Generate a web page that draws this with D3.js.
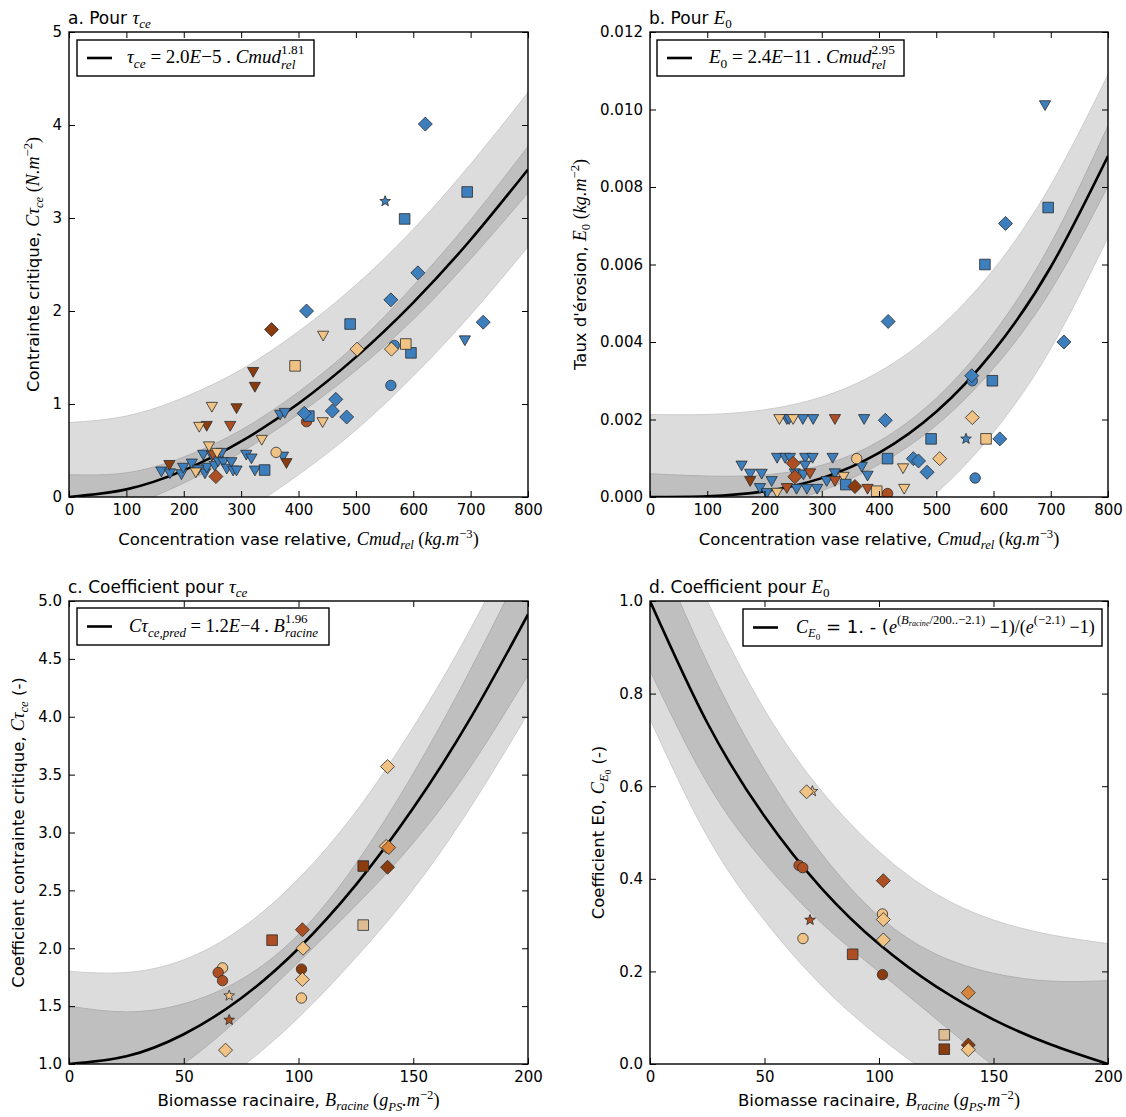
<!DOCTYPE html>
<html><head><meta charset="utf-8">
<script src="https://cdn.jsdelivr.net/npm/d3@7"></script>
<style>body{margin:0;background:#fff} svg{display:block}</style>
</head><body>
<svg id="chart" width="1126" height="1117"></svg>
<script>
// ---------------- DATA ----------------
// Panel a : tau_ce vs Cmud_rel
const aKnots   = [0,100,200,300,400,500,600,700,800];
const aFit     = [0,0.082,0.286,0.597,1.005,1.504,2.091,2.766,3.522];
const aLightHi = [0.80,0.87,1.07,1.37,1.78,2.28,2.88,3.58,4.35];
const aLightLo = [-0.80,-0.71,-0.49,-0.17,0.24,0.72,1.30,1.96,2.69];
const aDarkHi  = [0.24,0.26,0.43,0.72,1.13,1.64,2.27,2.98,3.77];
const aDarkLo  = [-0.24,-0.10,0.15,0.48,0.89,1.36,1.91,2.56,3.27];
const aXTicks = [0,100,200,300,400,500,600,700,800];
const aYTicks = [0,1,2,3,4,5];
const aTriBlue = [[690,1.68],[368,0.88],[376,0.90],[309,0.45],[318,0.41],[324,0.28],[373,0.43],[161,0.27],[176,0.25],[196,0.24],[199,0.31],[214,0.355],[234,0.45],[237,0.25],[240,0.31],[249,0.44],[254,0.33],[260,0.38],[269,0.37],[275,0.30],[283,0.37],[286,0.28],[292,0.28],[266,0.47],[225,0.29]];
const aTriDark = [[175,0.34],[240,0.76],[292,0.95],[321,1.34],[324,1.18],[379,0.36]];
const aTriRust = [[281,0.76],[251,0.45]];
const aTriTan  = [[249,0.965],[227,0.75],[244,0.54],[221,0.26],[336,0.61],[443,1.73],[442,0.80],[258,0.47]];
const aCirBlue = [[567,1.63],[561,1.20]];
const aCirRust = [[414,0.81]];
const aCirTan  = [[361,0.48]];
const aSqBlue  = [[694,3.28],[585,2.99],[490,1.86],[596,1.55],[341,0.29],[418,0.87]];
const aSqTan   = [[394,1.41],[587,1.645]];
const aDiaBlue = [[621,4.01],[608,2.41],[561,2.12],[414,2.0],[722,1.88],[465,1.05],[459,0.925],[484,0.86],[410,0.90]];
const aDiaDark = [[353,1.80]];
const aDiaRust = [[256,0.22]];
const aDiaTan  = [[502,1.59],[562,1.59]];
const aStarBlue= [[551,3.18]];

// Panel b : E0 vs Cmud_rel
const bKnots   = [0,100,200,300,400,500,600,700,800];
const bFit     = [0,0.000019,0.000147,0.000487,0.001139,0.002199,0.003765,0.005935,0.0088];
const bLightHi = [0.00213,0.00213,0.00225,0.00258,0.00323,0.00430,0.00587,0.00805,0.01090];
const bLightLo = [-0.00213,-0.0021,-0.00195,-0.0016,-0.00095,0.0001,0.00167,0.00383,0.0067];
const bDarkHi  = [0.0006,0.00054,0.00057,0.00082,0.00144,0.00255,0.00422,0.00654,0.00958];
const bDarkLo  = [-0.0006,-0.0005,-0.00027,0.00016,0.00084,0.00185,0.00332,0.00533,0.00802];
const bXTicks = [0,100,200,300,400,500,600,700,800];
const bYTicks = [0,0.002,0.004,0.006,0.008,0.010,0.012];
const bTriBlue = [[690,0.0101],[239,0.002],[243,0.002],[267,0.002],[285,0.002],[374,0.002],[222,0.001],[236,0.001],[244.5,0.001],[271,0.001],[284,0.001],[319,0.001],[160,0.0008],[175,0.00059],[195,0.00059],[212.5,0.0004],[192,0.00022],[204,0.00009],[256,0.0002],[274,0.0002],[292,0.0002],[253,0.0006],[268,0.00057],[323,0.0006],[308.6,0.0004],[380,0.00054],[370,0.00077],[271,0.0008]];
const bTriRust = [[323,0.002],[279.5,0.0006],[239,0.00022],[323,0.0004],[380,0.0002]];
const bTriDark = [[175,0.0004]];
const bTriTan  = [[226,0.002],[250,0.002],[338,0.00051],[442,0.00073],[444,0.0002],[222,0.0001]];
const bCirBlue = [[563,0.0030],[568,0.00049]];
const bCirTan  = [[361,0.00099]];
const bCirRust = [[415,0.00009]];
const bSqBlue  = [[695.5,0.00747],[585,0.006],[598,0.003],[491,0.0015],[415,0.00099],[342,0.00032]];
const bSqTan   = [[587,0.0015],[396,0.00015]];
const bDiaBlue = [[621,0.00706],[416,0.00453],[723,0.0040],[562,0.00313],[411,0.00198],[611,0.0015],[460,0.00099],[469,0.00093],[484,0.00064]];
const bDiaTan  = [[563,0.00205],[506,0.00099]];
const bDiaRust = [[250,0.00087],[253,0.00052]];
const bDiaDark = [[358,0.00027]];
const bStarBlue= [[552,0.0015]];

// Panel c : C_tau vs B_racine
const cKnots   = [0,25,50,75,100,125,150,175,200];
const cFit     = [1,1.066,1.257,1.568,1.998,2.547,3.211,3.990,4.884];
const cLightHi = [1.80,1.79,1.90,2.17,2.60,3.18,3.91,4.76,5.73];
const cLightLo = [0.20,0.35,0.62,0.97,1.40,1.92,2.51,3.22,4.03];
const cDarkHi  = [1.50,1.45,1.52,1.73,2.12,2.73,3.51,4.41,5.40];
const cDarkLo  = [0.50,0.69,1.00,1.41,1.88,2.37,2.91,3.57,4.36];
const cXTicks = [0,50,100,150,200];
const cYTicks = [1.0,1.5,2.0,2.5,3.0,3.5,4.0,4.5,5.0];
const cCirTan  = [[101.3,1.57],[66.9,1.83]];
const cCirRust = [[65,1.79],[66.9,1.72]];
const cCirDark = [[101.3,1.82]];
const cStarTan = [[69.8,1.59]];
const cStarRust= [[69.8,1.38]];
const cSqDark  = [[128.2,2.71]];
const cSqRust  = [[88.5,2.07]];
const cSqPale  = [[128.2,2.20]];
const cDiaTan  = [[138.8,3.57],[138.2,2.88],[102,2.0],[101.7,1.73],[68.2,1.12]];
const cDiaOrange=[[139.3,2.87]];
const cDiaDark = [[138.8,2.70]];
const cDiaRust = [[101.7,2.16]];

// Panel d : C_E0 vs B_racine
const dKnots   = [0,25,50,75,100,125,150,175,200];
const dFit     = [1,0.737,0.535,0.379,0.259,0.167,0.096,0.042,0];
const dLightHi = [1.26,1.00,0.765,0.589,0.459,0.367,0.311,0.279,0.26];
const dLightLo = [0.745,0.492,0.310,0.169,0.059,-0.033,-0.119,-0.195,-0.26];
const dDarkHi  = [1.15,0.867,0.635,0.454,0.319,0.237,0.196,0.179,0.18];
const dDarkLo  = [0.85,0.607,0.435,0.304,0.199,0.097,-0.004,-0.095,-0.18];
const dXTicks = [0,50,100,150,200];
const dYTicks = [0,0.2,0.4,0.6,0.8,1.0];
const dStarTan = [[70.9,0.589]];
const dCirTan  = [[101.5,0.324],[66.8,0.271]];
const dCirRust = [[65.1,0.429],[66.7,0.424]];
const dCirDark = [[101.5,0.193]];
const dStarRust= [[69.9,0.311]];
const dSqRust  = [[88.5,0.237]];
const dSqPale  = [[128.5,0.063]];
const dSqDark  = [[128.5,0.032]];
const dDiaRust = [[101.9,0.396]];
const dDiaOrange=[[139,0.154]];
const dDiaDark = [[139,0.041]];
const dDiaTan  = [[68.4,0.588],[101.9,0.312],[101.9,0.268],[139,0.031]];

// ---------------- STYLE ----------------
const SANS = "'DejaVu Sans', sans-serif";
const SERIF = "'Liberation Serif', 'DejaVu Serif', serif";
const MATH = 1.1; // math glyphs a bit larger than the sans text
const BLUE='#3d7fbc', TAN='#f0c283', DARK='#8b3c0e', RUST='#ad4f22', ORANGE='#d8843a', PALE='#dfbd93';

const SHAPES = {
  dia: 'M0,-7L7,0L0,7L-7,0Z',
  sq:  'M-5.3,-5.3H5.3V5.3H-5.3Z',
  cir: d3.symbol(d3.symbolCircle, 85)(),
  tri: 'M-5.6,-4.9L5.6,-4.9L0,4.9Z',
  star: (()=>{let p=[];for(let i=0;i<10;i++){const r=i%2?2.4:5.6;const a=-Math.PI/2+i*Math.PI/5;p.push([r*Math.cos(a),r*Math.sin(a)]);}return 'M'+p.map(q=>q[0].toFixed(2)+','+q[1].toFixed(2)).join('L')+'Z';})()
};

const svg = d3.select('#chart');

function rich(textSel, parts, base, mscale){
  const ms = mscale===undefined?MATH:mscale;
  let cur = 0, prev = null;
  parts.forEach(p=>{
    const sz = (p.sz||1)*base*(p.k==='sans'?1:ms);
    const shift = (p.dy||0)*base;
    const ts = textSel.append('tspan').text(p.t)
      .attr('font-family', p.k==='sans'?SANS:SERIF)
      .attr('font-style', p.k==='it'?'italic':'normal')
      .attr('font-size', sz)
      .attr('dy', shift-cur);
    if (p.stack && prev) ts.attr('dx', -prev.node().getComputedTextLength());
    cur = shift; prev = ts;
  });
}

function panel(cfg){
  const x = d3.scaleLinear().domain(cfg.xd).range([cfg.L, cfg.R]);
  const y = d3.scaleLinear().domain(cfg.yd).range([cfg.B, cfg.T]);
  const g = svg.append('g');
  const cid = 'clip-'+cfg.id;
  svg.append('clipPath').attr('id',cid).append('rect')
    .attr('x',cfg.L).attr('y',cfg.T).attr('width',cfg.R-cfg.L).attr('height',cfg.B-cfg.T);
  const pg = g.append('g').attr('clip-path',`url(#${cid})`);
  const area = d3.area().x(d=>x(d[0])).y0(d=>y(d[1])).y1(d=>y(d[2])).curve(d3.curveNatural);
  pg.append('path').datum(d3.zip(cfg.knots,cfg.lightLo,cfg.lightHi)).attr('d',area)
    .attr('fill','#dcdcdc').attr('stroke','#cdcdcd').attr('stroke-width',1);
  pg.append('path').datum(d3.zip(cfg.knots,cfg.darkLo,cfg.darkHi)).attr('d',area)
    .attr('fill','#bfbfbf').attr('stroke','#b0b0b0').attr('stroke-width',1);
  const line = d3.line().x(d=>x(d[0])).y(d=>y(d[1])).curve(d3.curveNatural);
  pg.append('path').datum(d3.zip(cfg.knots,cfg.fit)).attr('d',line)
    .attr('fill','none').attr('stroke','#000').attr('stroke-width',2.6);
  cfg.groups.forEach(([pts,shape,color])=>{
    pg.selectAll(null).data(pts).enter().append('path')
      .attr('transform',d=>`translate(${x(d[0])},${y(d[1])})`)
      .attr('d',SHAPES[shape]).attr('fill',color)
      .attr('stroke','#2b2b2b').attr('stroke-width',0.8);
  });
  // axes
  const styleAxis = s=>{ s.select('.domain').remove(); s.attr('font-family',SANS).attr('font-size',15);
    s.selectAll('.tick line').attr('stroke','#000').attr('stroke-width',1);
    s.selectAll('.tick text').attr('fill','#000'); };
  g.append('g').attr('transform',`translate(0,${cfg.B})`)
    .call(d3.axisBottom(x).tickValues(cfg.xt).tickSize(-6).tickPadding(7).tickFormat(d3.format(cfg.xf))).call(styleAxis);
  g.append('g').attr('transform',`translate(0,${cfg.T})`)
    .call(d3.axisTop(x).tickValues(cfg.xt).tickSize(-6).tickFormat('')).call(styleAxis);
  g.append('g').attr('transform',`translate(${cfg.L},0)`)
    .call(d3.axisLeft(y).tickValues(cfg.yt).tickSize(-6).tickPadding(7).tickFormat(d3.format(cfg.yf))).call(styleAxis);
  g.append('g').attr('transform',`translate(${cfg.R},0)`)
    .call(d3.axisRight(y).tickValues(cfg.yt).tickSize(-6).tickFormat('')).call(styleAxis);
  g.append('rect').attr('x',cfg.L).attr('y',cfg.T).attr('width',cfg.R-cfg.L).attr('height',cfg.B-cfg.T)
    .attr('fill','none').attr('stroke','#000').attr('stroke-width',1.4);
  // title
  rich(g.append('text').attr('x',cfg.L-1).attr('y',cfg.T-8).attr('fill','#000'), cfg.title, 17);
  // x label
  rich(g.append('text').attr('x',(cfg.L+cfg.R)/2).attr('y',cfg.B+cfg.xly).attr('text-anchor','middle').attr('fill','#000'), cfg.xlab, 16.5);
  // y label
  const cy=(cfg.T+cfg.B)/2;
  rich(g.append('text').attr('transform',`translate(${cfg.ylx},${cy}) rotate(-90)`).attr('text-anchor','middle').attr('fill','#000'), cfg.ylab, 16.5);
  // legend
  const lg = cfg.leg;
  g.append('rect').attr('x',lg.x).attr('y',lg.y).attr('width',lg.w).attr('height',lg.h)
    .attr('fill','#fff').attr('stroke','#000').attr('stroke-width',1.4);
  g.append('line').attr('x1',lg.x+10).attr('x2',lg.x+35).attr('y1',lg.y+lg.h/2).attr('y2',lg.y+lg.h/2)
    .attr('stroke','#000').attr('stroke-width',2.6);
  rich(g.append('text').attr('x',lg.x+lg.tx).attr('y',lg.y+lg.h/2+5).attr('fill','#000'), lg.parts, lg.fs, 1);
}

const tauce = [{t:'τ',k:'it'},{t:'ce',k:'it',sz:.7,dy:.25}];
const E0 = [{t:'E',k:'it'},{t:'0',k:'rm',sz:.7,dy:.25}];
const cmudLab = [{t:'Concentration vase relative, ',k:'sans'},{t:'Cmud',k:'it'},{t:'rel',k:'it',sz:.7,dy:.25},{t:' (',k:'rm'},{t:'kg.m',k:'it'},{t:'−3',k:'rm',sz:.7,dy:-.4},{t:')',k:'rm'}];
const bioLab = [{t:'Biomasse racinaire, ',k:'sans'},{t:'B',k:'it'},{t:'racine',k:'it',sz:.7,dy:.25},{t:' (',k:'rm'},{t:'g',k:'it'},{t:'PS',k:'it',sz:.7,dy:.3},{t:'.m',k:'it'},{t:'−2',k:'rm',sz:.7,dy:-.4},{t:')',k:'rm'}];

panel({id:'a', L:69,R:528,T:32,B:497, xd:[0,800], yd:[0,5], xt:aXTicks, yt:aYTicks, xf:'d', yf:'d',
  knots:aKnots, fit:aFit, lightHi:aLightHi, lightLo:aLightLo, darkHi:aDarkHi, darkLo:aDarkLo,
  groups:[[aTriBlue,'tri',BLUE],[aTriDark,'tri',DARK],[aTriRust,'tri',RUST],[aTriTan,'tri',TAN],
    [aCirBlue,'cir',BLUE],[aCirRust,'cir',RUST],[aCirTan,'cir',TAN],[aSqBlue,'sq',BLUE],[aSqTan,'sq',TAN],
    [aDiaBlue,'dia',BLUE],[aDiaDark,'dia',DARK],[aDiaRust,'dia',RUST],[aDiaTan,'dia',TAN],[aStarBlue,'star',BLUE]],
  title:[{t:'a. Pour ',k:'sans'}, ...tauce], xlab:cmudLab, xly:48, ylx:39,
  ylab:[{t:'Contrainte critique, ',k:'sans'},{t:'Cτ',k:'it'},{t:'ce',k:'it',sz:.7,dy:.25},{t:' (',k:'rm'},{t:'N.m',k:'it'},{t:'−2',k:'rm',sz:.7,dy:-.4},{t:')',k:'rm'}],
  leg:{x:77,y:40,w:237,h:36,tx:50,fs:19,parts:[...tauce,{t:' = 2.0',k:'rm'},{t:'E',k:'it'},{t:'−5 . ',k:'rm'},{t:'Cmud',k:'it'},{t:'rel',k:'it',sz:.7,dy:.3},{t:'1.81',k:'rm',sz:.7,dy:-.45,stack:true}]}
});

panel({id:'b', L:650,R:1108,T:32,B:497, xd:[0,800], yd:[0,0.012], xt:bXTicks, yt:bYTicks, xf:'d', yf:'.3f',
  knots:bKnots, fit:bFit, lightHi:bLightHi, lightLo:bLightLo, darkHi:bDarkHi, darkLo:bDarkLo,
  groups:[[bTriBlue,'tri',BLUE],[bTriRust,'tri',RUST],[bTriDark,'tri',DARK],[bTriTan,'tri',TAN],
    [bCirBlue,'cir',BLUE],[bCirTan,'cir',TAN],[bCirRust,'cir',RUST],[bSqBlue,'sq',BLUE],[bSqTan,'sq',TAN],
    [bDiaBlue,'dia',BLUE],[bDiaTan,'dia',TAN],[bDiaRust,'dia',RUST],[bDiaDark,'dia',DARK],[bStarBlue,'star',BLUE]],
  title:[{t:'b. Pour ',k:'sans'}, ...E0], xlab:cmudLab, xly:48, ylx:586,
  ylab:[{t:"Taux d'érosion, ",k:'sans'},...E0,{t:' (',k:'rm'},{t:'kg.m',k:'it'},{t:'−2',k:'rm',sz:.7,dy:-.4},{t:')',k:'rm'}],
  leg:{x:657,y:40,w:247,h:36,tx:52,fs:19,parts:[...E0,{t:' = 2.4',k:'rm'},{t:'E',k:'it'},{t:'−11 . ',k:'rm'},{t:'Cmud',k:'it'},{t:'rel',k:'it',sz:.7,dy:.3},{t:'2.95',k:'rm',sz:.7,dy:-.45,stack:true}]}
});

panel({id:'c', L:69,R:528,T:601,B:1064, xd:[0,200], yd:[1,5], xt:cXTicks, yt:cYTicks, xf:'d', yf:'.1f',
  knots:cKnots, fit:cFit, lightHi:cLightHi, lightLo:cLightLo, darkHi:cDarkHi, darkLo:cDarkLo,
  groups:[[cCirTan,'cir',TAN],[cCirRust,'cir',RUST],[cCirDark,'cir',DARK],[cStarTan,'star',TAN],[cStarRust,'star',RUST],
    [cSqDark,'sq',DARK],[cSqRust,'sq',RUST],[cSqPale,'sq',PALE],[cDiaTan,'dia',TAN],[cDiaOrange,'dia',ORANGE],[cDiaDark,'dia',DARK],[cDiaRust,'dia',RUST]],
  title:[{t:'c. Coefficient pour ',k:'sans'}, ...tauce], xlab:bioLab, xly:42, ylx:24,
  ylab:[{t:'Coefficient contrainte critique, ',k:'sans'},{t:'Cτ',k:'it'},{t:'ce',k:'it',sz:.7,dy:.25},{t:' (-)',k:'sans'}],
  leg:{x:77,y:608,w:252,h:37,tx:52,fs:18.5,parts:[{t:'Cτ',k:'it'},{t:'ce,pred',k:'it',sz:.7,dy:.3},{t:' = 1.2',k:'rm'},{t:'E',k:'it'},{t:'−4 . ',k:'rm'},{t:'B',k:'it'},{t:'racine',k:'it',sz:.7,dy:.3},{t:'1.96',k:'rm',sz:.7,dy:-.45,stack:true}]}
});

panel({id:'d', L:650,R:1108,T:601,B:1064, xd:[0,200], yd:[0,1], xt:dXTicks, yt:dYTicks, xf:'d', yf:'.1f',
  knots:dKnots, fit:dFit, lightHi:dLightHi, lightLo:dLightLo, darkHi:dDarkHi, darkLo:dDarkLo,
  groups:[[dStarTan,'star',TAN],[dCirTan,'cir',TAN],[dCirRust,'cir',RUST],[dCirDark,'cir',DARK],[dStarRust,'star',RUST],
    [dSqRust,'sq',RUST],[dSqPale,'sq',PALE],[dSqDark,'sq',DARK],[dDiaRust,'dia',RUST],[dDiaOrange,'dia',ORANGE],[dDiaDark,'dia',DARK],[dDiaTan,'dia',TAN]],
  title:[{t:'d. Coefficient pour ',k:'sans'}, ...E0], xlab:bioLab, xly:42, ylx:604,
  ylab:[{t:'Coefficient E0, ',k:'sans'},{t:'C',k:'it'},{t:'E',k:'it',sz:.7,dy:.25},{t:'0',k:'rm',sz:.5,dy:.4},{t:' (-)',k:'sans'}],
  leg:{x:743,y:609,w:359,h:37,tx:53,fs:18,parts:[{t:'C',k:'it'},{t:'E',k:'it',sz:.7,dy:.25},{t:'0',k:'rm',sz:.5,dy:.4},{t:' = 1. - (',k:'sans'},{t:'e',k:'it'},{t:'(',k:'rm',sz:.7,dy:-.45},{t:'B',k:'it',sz:.7,dy:-.45},{t:'racine',k:'it',sz:.45,dy:-.35},{t:'/200..−2.1)',k:'rm',sz:.7,dy:-.45},{t:' −1)/(',k:'rm'},{t:'e',k:'it'},{t:'(−2.1)',k:'rm',sz:.7,dy:-.45},{t:' −1)',k:'rm'}]}
});
</script>
</body></html>
